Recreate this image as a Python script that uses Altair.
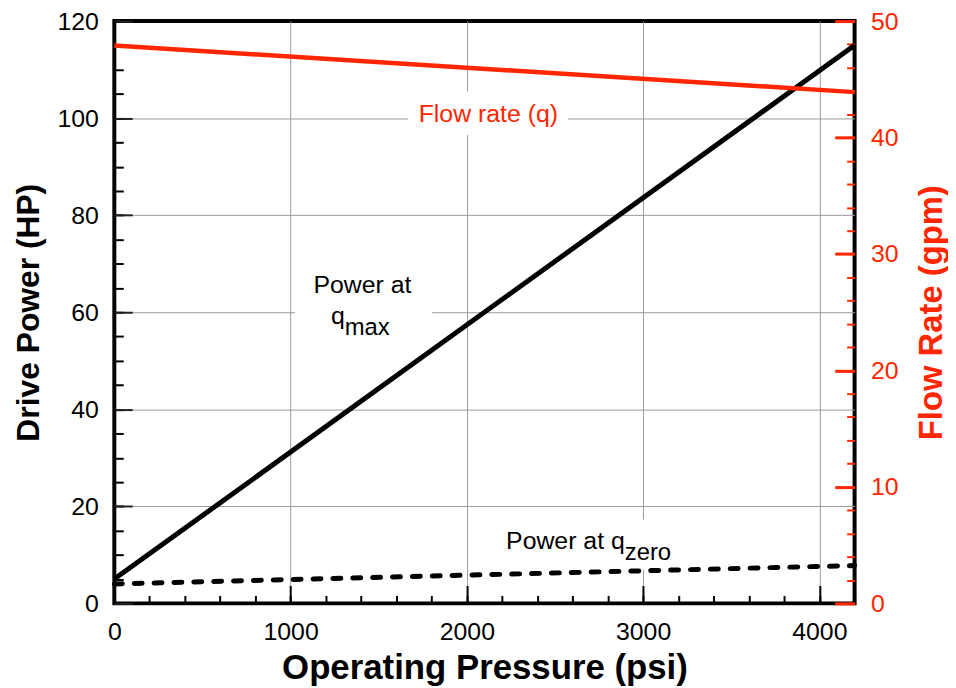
import altair as alt
import pandas as pd

# ---------------- data ----------------
pressure = [0, 4200]                 # psi
power_qmax = [5.0, 115.0]            # HP, power at q max
power_qzero = [4.0, 7.8]             # HP, power at q zero
flow_rate = [47.9, 43.9]             # gpm

x_label_values = [0, 1000, 2000, 3000, 4000]
x_grid_values = [1000, 2000, 3000, 4000]
x_minor_values = list(range(0, 4201, 200))
y_left_values = [0, 20, 40, 60, 80, 100, 120]
y_grid_values = [20, 40, 60, 80, 100]
y_left_minor = list(range(0, 121, 5))
y_right_values = [0, 10, 20, 30, 40, 50]
y_right_minor = list(range(0, 51, 2))

# white label backgrounds (psi, HP)
box_x = [1668, 1025, 2085]
box_x2 = [2575, 1803, 3183]
box_y = [96.5, 52.4, 7.0]
box_y2 = [105.5, 70.0, 17.3]

# annotations (psi, HP)
center_text = ["Power at"]
center_x = [1408]
center_y = [63.9]
main_text = ["q", "Power at q"]
main_x = [1307, 2896]
main_y = [57.6, 11.2]
sub_text = ["max", "zero"]
flow_text = ["Flow rate (q)"]
flow_x = [2122]
flow_y = [99.3]

FONT = "Liberation Sans"
RED = "#ff2600"

lines_df = pd.DataFrame({"p": pressure, "qmax": power_qmax,
                         "qzero": power_qzero, "flow": flow_rate})
box_df = pd.DataFrame({"x": box_x, "x2": box_x2, "y": box_y, "y2": box_y2})
center_df = pd.DataFrame({"x": center_x, "y": center_y, "t": center_text})
main_df = pd.DataFrame({"x": main_x, "y": main_y, "t": main_text})
sub_df = pd.DataFrame({"x": main_x, "y": main_y, "t": sub_text})
flow_df = pd.DataFrame({"x": flow_x, "y": flow_y, "t": flow_text})


def xs():
    return alt.Scale(domain=[0, 4200], nice=False, zero=False)


def yl():
    return alt.Scale(domain=[0, 120], nice=False, zero=False)


def yr():
    return alt.Scale(domain=[0, 50], nice=False, zero=False)


# ---------------- axes ----------------
x_grid = alt.Axis(orient="bottom", values=x_grid_values, grid=True, gridColor="#9a9a9a",
                  gridWidth=1, ticks=False, labels=False, domain=False, title=None)
y_grid = alt.Axis(orient="left", values=y_grid_values, grid=True, gridColor="#9a9a9a",
                  gridWidth=1, ticks=False, labels=False, domain=False, title=None)

x_major = alt.Axis(orient="bottom", values=x_label_values, format="d", offset=-18,
                   tickSize=18, tickWidth=2, tickColor="black", domain=False, grid=False,
                   labelFont=FONT, labelFontSize=25, labelColor="black", labelPadding=16,
                   labelFlush=False, labelOverlap=False,
                   title="Operating Pressure (psi)", titleFont=FONT, titleFontSize=35,
                   titleFontWeight="bold", titleColor="black", titlePadding=7)
x_minor = alt.Axis(orient="bottom", values=x_minor_values, offset=-8, tickSize=8,
                   tickWidth=2, tickColor="black", domain=False, grid=False,
                   labels=False, title=None)

y_major = alt.Axis(orient="left", values=y_left_values, format="d", offset=-18,
                   tickSize=18, tickWidth=2, tickColor="#222222", domain=False, grid=False,
                   labelFont=FONT, labelFontSize=25, labelColor="black", labelPadding=16,
                   labelFlush=False, labelOverlap=False,
                   title="Drive Power (HP)", titleFont=FONT, titleFontSize=32,
                   titleFontWeight="bold", titleColor="black", titlePadding=12)
y_minor = alt.Axis(orient="left", values=y_left_minor, offset=-9, tickSize=9,
                   tickWidth=2, tickColor="black", domain=False, grid=False,
                   labels=False, title=None)

yr_major = alt.Axis(orient="right", values=y_right_values, format="d", offset=-20,
                    tickSize=20, tickWidth=3, tickColor=RED, domain=False, grid=False,
                    labelFont=FONT, labelFontSize=25, labelColor=RED, labelPadding=16,
                    labelFlush=False, labelOverlap=False,
                    title="Flow Rate (gpm)", titleFont=FONT, titleFontSize=33,
                    titleFontWeight="bold", titleColor=RED, titleAngle=270,
                    titleBaseline="top", titlePadding=18)
yr_minor = alt.Axis(orient="right", values=y_right_minor, offset=-8, tickSize=8,
                    tickWidth=2, tickColor=RED, domain=False, grid=False,
                    labels=False, title=None)

# ---------------- layers ----------------
boxes = alt.Chart(box_df).mark_rect(color="white").encode(
    x=alt.X("x:Q", scale=xs(), axis=x_grid),
    x2="x2:Q",
    y=alt.Y("y:Q", scale=yl(), axis=y_grid),
    y2="y2:Q",
)

dashed = alt.Chart(lines_df).mark_line(color="black", strokeWidth=5, strokeDash=[8, 12],
                                       strokeCap="round").encode(
    x=alt.X("p:Q", scale=xs(), axis=x_minor),
    y=alt.Y("qzero:Q", scale=yl(), axis=y_minor),
)

solid = alt.Chart(lines_df).mark_line(color="black", strokeWidth=5).encode(
    x=alt.X("p:Q", scale=xs(), axis=x_major),
    y=alt.Y("qmax:Q", scale=yl(), axis=y_major),
)

flow = alt.Chart(lines_df).mark_line(color=RED, strokeWidth=4.5).encode(
    x=alt.X("p:Q", scale=xs(), axis=None),
    y=alt.Y("flow:Q", scale=yr(), axis=yr_major),
)

flow_minor = alt.Chart(lines_df).mark_line(color=RED, strokeWidth=4.5, opacity=0).encode(
    x=alt.X("p:Q", scale=xs(), axis=None),
    y=alt.Y("flow:Q", scale=yr(), axis=yr_minor),
)


def text_layer(df, align, color, size, dy=0):
    return alt.Chart(df).mark_text(align=align, baseline="alphabetic", font=FONT,
                                   fontSize=size, color=color, dy=dy).encode(
        x=alt.X("x:Q", scale=xs(), axis=None),
        y=alt.Y("y:Q", scale=yl(), axis=None),
        text="t:N",
    )


t_center = text_layer(center_df, "center", "black", 25)
t_main = text_layer(main_df, "right", "black", 25)
t_sub = text_layer(sub_df, "left", "black", 24, dy=11)
t_flow = text_layer(flow_df, "center", RED, 25)

chart = alt.layer(
    boxes, dashed, solid, flow, flow_minor, t_center, t_main, t_sub, t_flow
).resolve_scale(
    x="independent", y="independent"
).properties(
    width=745,
    height=586,
    padding={"left": 107, "top": 11, "right": 94, "bottom": 83},
    autosize=alt.AutoSizeParams(type="none"),
    background="white",
).configure_view(
    stroke="black", strokeWidth=4
)

chart.save("out.html", embed_options={"renderer": "svg", "actions": False})
